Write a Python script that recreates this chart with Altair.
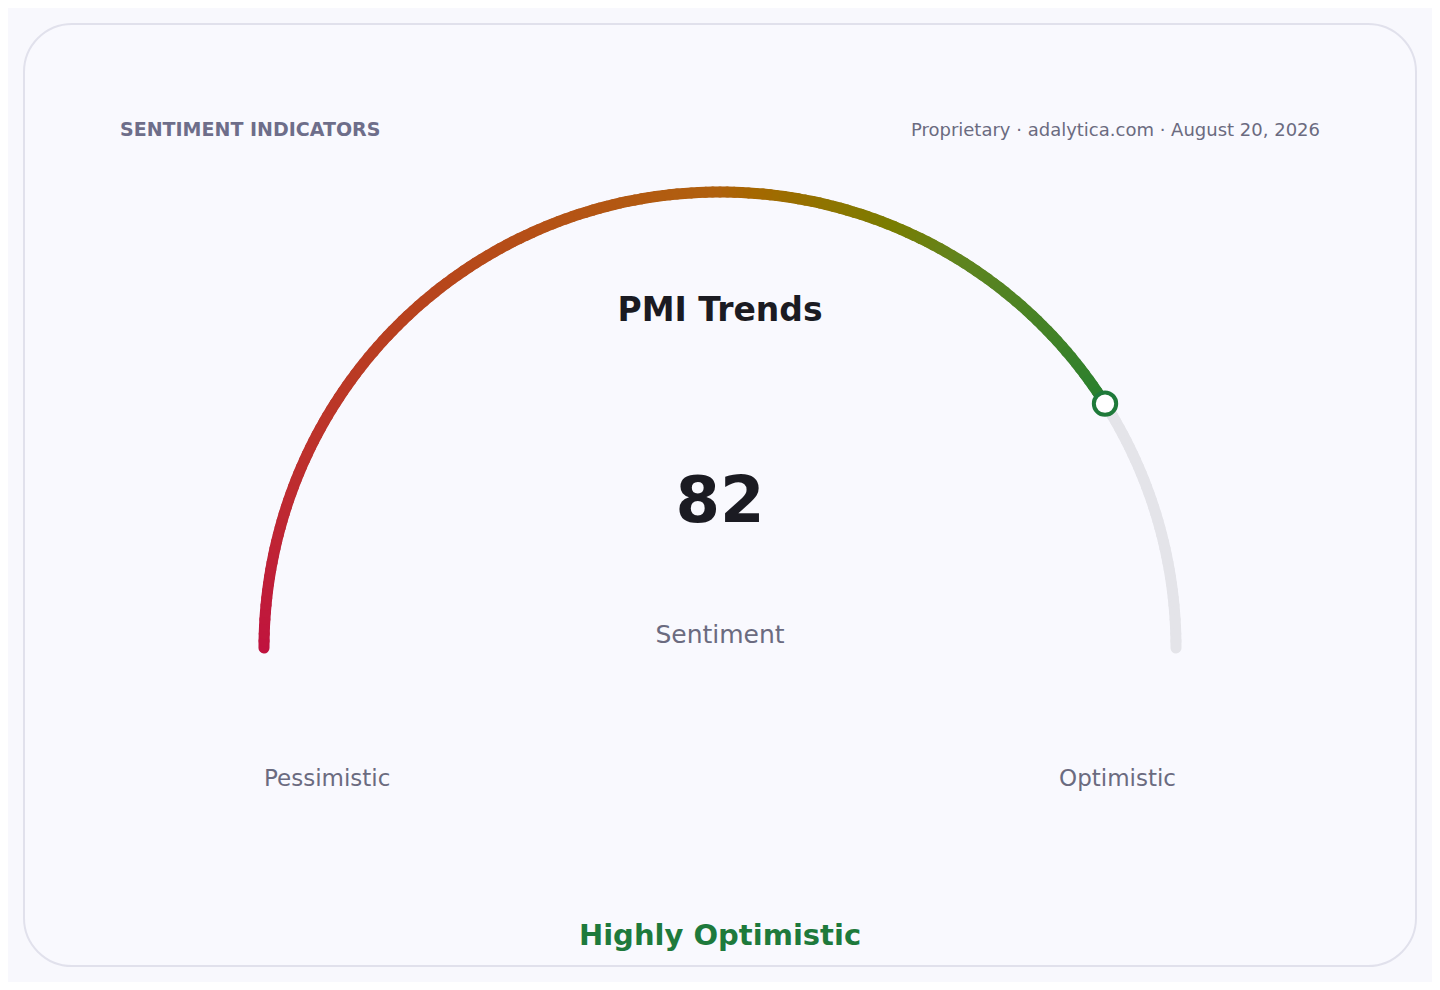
import math
import altair as alt
import pandas as pd

# ---- data ----
VALUE = [82]
SCALE_RANGE = [0, 100]
END_LABELS = ["Pessimistic", "Optimistic"]
TITLE = ["PMI Trends"]
METRIC = ["Sentiment"]
STATUS = ["Highly Optimistic"]
HEADER_LEFT = ["SENTIMENT INDICATORS"]
HEADER_RIGHT = ["Proprietary · adalytica.com · August 20, 2026"]

FONT = "DejaVu Sans"
W, H = 1424, 974
R_PX = 456.0
CX, CY = 712.0, 640.0  # gauge centre in view pixels

XDOM = [-CX / R_PX, (W - CX) / R_PX]
YDOM = [-(H - CY) / R_PX, CY / R_PX]

value = VALUE[0]
lo, hi = SCALE_RANGE


def ang(v):
    return math.pi * (1 - (v - lo) / (hi - lo))


# arc segments (geometry derived from value)
step = 0.5
track_rows, fill_rows = [], []
v = lo
while v < hi - 1e-9:
    a0, a1 = ang(v), ang(min(v + step, hi))
    track_rows.append(dict(x=math.cos(a0), y=math.sin(a0), x2=math.cos(a1), y2=math.sin(a1)))
    v += step
v = lo
while v < value - 1e-9:
    e = min(v + step, value)
    a0, a1 = ang(v), ang(e)
    fill_rows.append(dict(x=math.cos(a0), y=math.sin(a0), x2=math.cos(a1), y2=math.sin(a1), t=(v + e) / 2))
    v += step

track = pd.DataFrame(track_rows)
fill = pd.DataFrame(fill_rows)
am = ang(value)
marker = pd.DataFrame([dict(x=math.cos(am), y=math.sin(am), v=value)])
ends = pd.DataFrame([
    dict(x=-1.0, y=-0.302, label=END_LABELS[0]),
    dict(x=1.0, y=-0.302, label=END_LABELS[1]),
])

xs = alt.Scale(domain=XDOM, nice=False, zero=False)
ys = alt.Scale(domain=YDOM, nice=False, zero=False)
X = lambda f="x": alt.X(f, type="quantitative", scale=xs, axis=None)
Y = lambda f="y": alt.Y(f, type="quantitative", scale=ys, axis=None)

one = pd.DataFrame({"a": [0]})

card = alt.Chart(one).mark_rect(
    cornerRadius=48, fill="#f9f9fe", stroke="#e1e1ec", strokeWidth=2
).encode(x=alt.value(16), x2=alt.value(1408), y=alt.value(16), y2=alt.value(958))

track_layer = alt.Chart(track).mark_rule(
    strokeWidth=11, strokeCap="round", color="#e4e4e9"
).encode(x=X(), y=Y(), x2="x2", y2="y2")

fill_layer = alt.Chart(fill).mark_rule(strokeWidth=11, strokeCap="round").encode(
    x=X(), y=Y(), x2="x2", y2="y2",
    color=alt.Color("t:Q", legend=None,
                    scale=alt.Scale(domain=[0, 25, 50, 68, 82],
                                    range=["#c0123e", "#b8401f", "#b0600e", "#5f841f", "#27802f"])),
)

marker_layer = alt.Chart(marker).mark_point(
    shape="circle", filled=True, fill="#ffffff", stroke="#1f7a3a", strokeWidth=4, size=500, opacity=1
).encode(x=X(), y=Y())

end_left = alt.Chart(ends.iloc[[0]]).mark_text(
    font=FONT, fontSize=23, color="#6b6b80", align="left", baseline="alphabetic"
).encode(x=X(), y=Y(), text="label:N")
end_right = alt.Chart(ends.iloc[[1]]).mark_text(
    font=FONT, fontSize=23, color="#6b6b80", align="right", baseline="alphabetic"
).encode(x=X(), y=Y(), text="label:N")


def txt(s, x, y, **kw):
    return alt.Chart(pd.DataFrame({"s": s})).mark_text(font=FONT, baseline="alphabetic", **kw).encode(
        x=alt.value(x), y=alt.value(y), text="s:N")


title = txt(TITLE, CX, 313, fontSize=33, fontWeight="bold", color="#1b1b22", align="center")
big = txt([str(v) for v in VALUE], CX, 514, fontSize=64, fontWeight="bold", color="#1b1b22", align="center")
metric = txt(METRIC, CX, 635, fontSize=25, color="#6b6b80", align="center")
status = txt(STATUS, CX, 937, fontSize=29, fontWeight="bold", color="#1e7a3c", align="center")
hl = txt(HEADER_LEFT, 112, 128, fontSize=19, fontWeight="bold", color="#6e6e8a", align="left")
hr = txt(HEADER_RIGHT, 1312, 128, fontSize=18, color="#6b6b80", align="right")

chart = alt.layer(
    card, track_layer, fill_layer, marker_layer, end_left, end_right,
    title, big, metric, status, hl, hr
).properties(
    width=W, height=H, autosize=alt.AutoSizeParams(type="none"), padding=0, background="#f8f8fd"
).configure_view(stroke=None)

chart.save("out.html", embed_options={"renderer": "svg", "actions": False})
